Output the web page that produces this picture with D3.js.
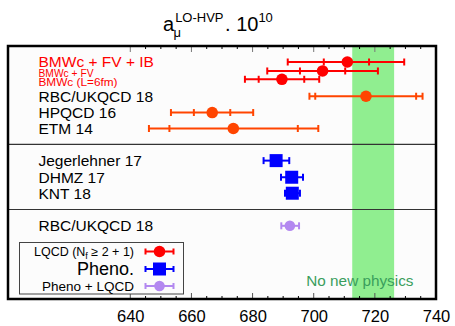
<!DOCTYPE html>
<html>
<head>
<meta charset="utf-8">
<script src="https://cdn.jsdelivr.net/npm/d3@7"></script>
<style>
  body { margin: 0; background: #fff; }
  text { font-family: "Liberation Sans", Arial, sans-serif; }
</style>
</head>
<body>
<div id="chart"></div>
<script>
// values (a_mu^LO-HVP x 10^10)
var labels = ["BMWc + FV + IB", "BMWc + FV", "BMWc (L=6fm)", "RBC/UKQCD 18", "HPQCD 16", "ETM 14",
  "Jegerlehner 17", "DHMZ 17", "KNT 18", "RBC/UKQCD 18"];
var groups = ["bmw", "bmw", "bmw", "lqcd", "lqcd", "lqcd", "pheno", "pheno", "pheno", "mix"];
var centers = [711.0, 702.9, 689.6, 717.1, 666.8, 673.7, 687.7, 692.8, 693.0, 692.2];
var innerLo = [703.3, 695.5, 682.0, 700.5, 660.8, 652.8, null, null, null, null];
var innerHi = [718.1, 710.3, 696.9, 733.5, 672.7, 694.8, null, null, null, null];
var outerLo = [691.5, 684.8, 677.5, 698.6, 653.3, 646.1, 683.6, 689.3, 690.6, 689.4];
var outerHi = [729.6, 721.0, 701.8, 735.6, 680.2, 701.5, 692.0, 696.5, 695.5, 695.2];
var rowPos = [0, 0.55, 1.06, 2.1, 3.1, 4.08, 6.05, 7.07, 8.05, 10.05];
var separators = [5.05, 9.05];
var band = [712.6, 726.3];
var tickValues = [640, 660, 680, 700, 720, 740];
var legendLabels = ["LQCD (N", "Pheno.", "Pheno + LQCD"];

var width = 455, height = 326;
var frame = { left: 8, right: 436, top: 46, bottom: 299 };

var colors = { bmw: "#ff0000", lqcd: "#ff4500", pheno: "#0000ff", mix: "#b388f0" };

var svg = d3.select("#chart").append("svg")
  .attr("width", width)
  .attr("height", height);

var x = d3.scaleLinear().domain([600, 740]).range([frame.left, frame.right]);
var y = d3.scaleLinear().domain([0, 10]).range([62, 225]);

// plot background
svg.append("rect")
  .attr("x", frame.left).attr("y", frame.top)
  .attr("width", frame.right - frame.left).attr("height", frame.bottom - frame.top)
  .attr("fill", "#fcfcfc");

// no new physics band
svg.append("rect")
  .attr("x", x(band[0])).attr("y", frame.top)
  .attr("width", x(band[1]) - x(band[0])).attr("height", frame.bottom - frame.top)
  .attr("fill", "#90ee90");

svg.append("text")
  .attr("x", x(715.1)).attr("y", 280).attr("dy", "0.36em")
  .attr("text-anchor", "middle")
  .attr("font-size", 15.3)
  .attr("fill", "#3a9e5c")
  .text("No new physics");

// separators
svg.selectAll(".sep").data(separators).enter().append("line")
  .attr("class", "sep")
  .attr("x1", frame.left).attr("x2", frame.right)
  .attr("y1", function(d) { return y(d); }).attr("y2", function(d) { return y(d); })
  .attr("stroke", "#333").attr("stroke-width", 1.2);

// ticks top and bottom, every 5 from 640
var minor = d3.range(640, 741, 5);
svg.selectAll(".tb").data(minor).enter().append("line")
  .attr("x1", function(d) { return x(d); }).attr("x2", function(d) { return x(d); })
  .attr("y1", frame.bottom)
  .attr("y2", function(d) { return frame.bottom - (d % 20 === 0 ? 6 : 3); })
  .attr("stroke", function(d) { return d % 20 === 0 ? "#555" : "#000"; })
  .attr("stroke-width", 1);
svg.selectAll(".tt").data(minor).enter().append("line")
  .attr("x1", function(d) { return x(d); }).attr("x2", function(d) { return x(d); })
  .attr("y1", frame.top)
  .attr("y2", function(d) { return frame.top + (d % 20 === 0 ? 6 : 3); })
  .attr("stroke", function(d) { return d % 20 === 0 ? "#777" : "#000"; })
  .attr("stroke-width", 1);

// axis labels
var axis = d3.axisBottom(x).tickValues(tickValues).tickSize(0).tickPadding(0);
var gAxis = svg.append("g").attr("transform", "translate(0," + 316.5 + ")").call(axis);
gAxis.select(".domain").remove();
gAxis.selectAll("text")
  .attr("font-size", 16.5)
  .attr("fill", "#000")
  .attr("dy", "0.36em")
  .style("font-family", "'Liberation Sans', Arial, sans-serif");

// data rows
var rows = labels.map(function(l, i) {
  return { label: l, group: groups[i], c: centers[i], il: innerLo[i], ih: innerHi[i],
    ol: outerLo[i], oh: outerHi[i], r: rowPos[i], i: i };
});

function errorBar(g, d, col, capH) {
  g.append("line")
    .attr("x1", x(d.ol)).attr("x2", x(d.oh))
    .attr("y1", y(d.r)).attr("y2", y(d.r))
    .attr("stroke", col).attr("stroke-width", 2);
  [d.ol, d.oh, d.il, d.ih].forEach(function(v) {
    if (v == null) return;
    g.append("line")
      .attr("x1", x(v)).attr("x2", x(v))
      .attr("y1", y(d.r) - capH).attr("y2", y(d.r) + capH)
      .attr("stroke", col).attr("stroke-width", 2);
  });
}

var gRows = svg.append("g");
rows.forEach(function(d) {
  var col = colors[d.group];
  var g = gRows.append("g");
  errorBar(g, d, col, 3.5);
  if (d.group === "pheno") {
    g.append("rect")
      .attr("x", x(d.c) - 6.5).attr("y", y(d.r) - 6.5)
      .attr("width", 13).attr("height", 13)
      .attr("fill", col);
  } else {
    g.append("circle")
      .attr("cx", x(d.c)).attr("cy", y(d.r))
      .attr("r", d.group === "mix" ? 5.3 : 5.8)
      .attr("fill", col);
  }
  var small = d.i === 1 || d.i === 2;
  var t = g.append("text")
    .attr("x", 38.5)
    .attr("fill", d.group === "bmw" ? "#ff0000" : "#000")
    .text(d.label);
  if (small) {
    // small labels, stretched horizontally as in the original
    t.attr("y", y(d.r) + (d.i === 1 ? 5.7 : 6.7))
      .attr("font-size", 10)
      .attr("textLength", d.i === 1 ? 55 : 79)
      .attr("lengthAdjust", "spacingAndGlyphs");
  } else {
    t.attr("y", y(d.r) + (d.i === 0 ? 4.7 : 0))
      .attr("dy", d.i === 0 ? null : "0.36em")
      .attr("font-size", 15.5);
  }
});

// title
var title = svg.append("text")
  .attr("x", 163).attr("y", 31)
  .attr("font-size", 20)
  .attr("fill", "#000");
title.append("tspan").text("a");
title.append("tspan").attr("font-size", 13).attr("dy", -9).attr("dx", 1).text("LO-HVP");
title.append("tspan").attr("font-size", 13).attr("dy", 15).attr("dx", -50).text("\u03bc");
title.append("tspan").attr("dy", -6).attr("dx", 44).text(". 10");
title.append("tspan").attr("font-size", 13).attr("dy", -9).text("10");

// legend
var leg = svg.append("g");
leg.append("rect")
  .attr("x", 19.5).attr("y", 242.5).attr("width", 164).attr("height", 51.5)
  .attr("fill", "#fcfcfc").attr("stroke", "#444").attr("stroke-width", 1);
var legY = [251.5, 269, 286];
var legCols = [colors.bmw, colors.pheno, colors.mix];
var legSizes = [12.5, 18, 13.5];
legY.forEach(function(yy, i) {
  var t = leg.append("text")
    .attr("x", 134).attr("y", yy).attr("dy", "0.36em")
    .attr("text-anchor", "end")
    .attr("font-size", legSizes[i])
    .attr("fill", "#000");
  if (i === 0) {
    t.append("tspan").text(legendLabels[0]);
    t.append("tspan").attr("font-size", 9).attr("dy", 3).text("f");
    t.append("tspan").attr("dy", -3).text(" \u2265 2 + 1)");
  } else {
    t.text(legendLabels[i]);
  }
  leg.append("line").attr("x1", 145.5).attr("x2", 173.5).attr("y1", yy).attr("y2", yy)
    .attr("stroke", legCols[i]).attr("stroke-width", 2);
  [145.5, 173.5].forEach(function(xx) {
    leg.append("line").attr("x1", xx).attr("x2", xx).attr("y1", yy - 3).attr("y2", yy + 3)
      .attr("stroke", legCols[i]).attr("stroke-width", 2);
  });
  if (i === 1) {
    leg.append("rect").attr("x", 153).attr("y", yy - 6.5).attr("width", 13).attr("height", 13)
      .attr("fill", legCols[i]);
  } else {
    leg.append("circle").attr("cx", 159.5).attr("cy", yy).attr("r", i === 0 ? 5.8 : 5.3)
      .attr("fill", legCols[i]);
  }
});

// frame
svg.append("rect")
  .attr("x", frame.left).attr("y", frame.top)
  .attr("width", frame.right - frame.left).attr("height", frame.bottom - frame.top)
  .attr("fill", "none").attr("stroke", "#000").attr("stroke-width", 2.5);
</script>
</body>
</html>
